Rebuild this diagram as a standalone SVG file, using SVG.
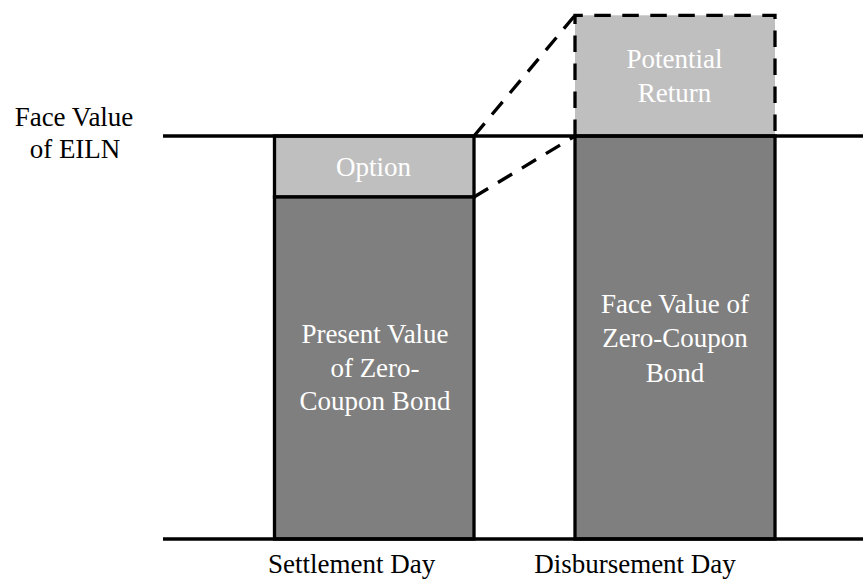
<svg xmlns="http://www.w3.org/2000/svg" width="863" height="579" viewBox="0 0 863 579">
<style>
  text { font-family: 'Liberation Serif', 'Times New Roman', Times, serif; font-size: 27px; text-anchor: middle; }
  .w { fill: #ffffff; }
  .k { fill: #000000; }
  .solid { stroke: #000; stroke-width: 3.3; }
  .dash { stroke: #000; stroke-width: 3.3; stroke-dasharray: 16.5 11.5; fill: none; }
  .light { fill: #BFBFBF; }
  .dark { fill: #7F7F7F; }
</style>
<rect width="863" height="579" fill="#ffffff"/>
<g id="potential-return">
  <rect x="575" y="15.3" width="200" height="120.7" class="light"/>
  <path d="M575,136 V15.3 H775 V136" class="dash"/>
  <text class="w" x="674.5" y="68.3">Potential</text>
  <text class="w" x="674.5" y="101.7">Return</text>
</g>
<g id="option">
  <rect x="274.5" y="136" width="199.5" height="61" class="light solid"/>
  <text class="w" x="373.5" y="176">Option</text>
</g>
<g id="pv-zcb">
  <rect x="274.5" y="197" width="199.5" height="342" class="dark solid"/>
  <text class="w" x="375" y="343.3">Present Value</text>
  <text class="w" x="375" y="376.7">of Zero-</text>
  <text class="w" x="375" y="410">Coupon Bond</text>
</g>
<g id="fv-zcb">
  <rect x="575" y="136" width="200" height="403" class="dark solid"/>
  <text class="w" x="675" y="313">Face Value of</text>
  <text class="w" x="675" y="346.7">Zero-Coupon</text>
  <text class="w" x="675" y="381.7">Bond</text>
</g>
<g id="connectors">
  <line x1="163" y1="136" x2="863" y2="136" class="solid"/>
  <line x1="163" y1="539" x2="863" y2="539" class="solid"/>
  <line x1="474" y1="136" x2="575" y2="15.3" class="dash"/>
  <line x1="474" y1="197" x2="575" y2="136" class="dash"/>
</g>
<g id="labels">
  <text class="k" x="74" y="126">Face Value</text>
  <text class="k" x="75" y="158">of EILN</text>
  <text class="k" x="351.7" y="573">Settlement Day</text>
  <text class="k" x="635" y="573">Disbursement Day</text>
</g>
</svg>
